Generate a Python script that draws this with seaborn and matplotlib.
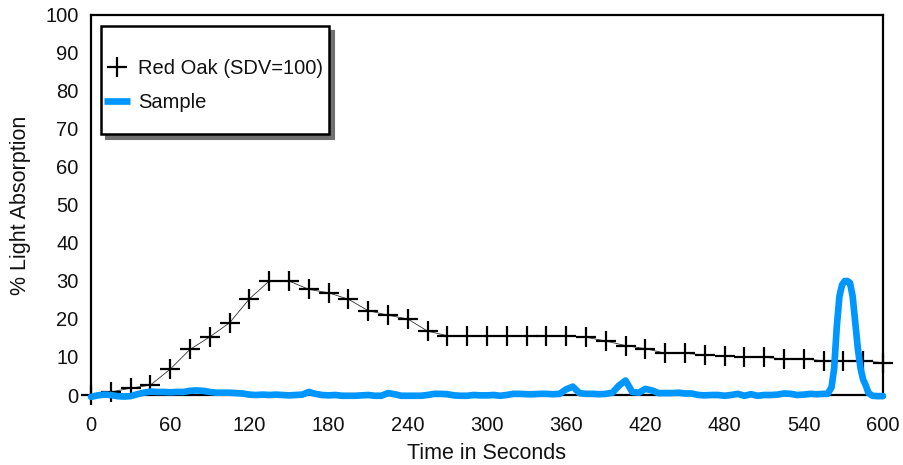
import matplotlib
matplotlib.use("Agg")
import matplotlib.pyplot as plt
import matplotlib.patches as mpatches
import matplotlib.transforms as mtransforms
from matplotlib.lines import Line2D
import seaborn as sns
import pandas as pd

# ---- data ----
oak_time = [0, 15, 30, 45, 60, 75, 90, 105, 120, 135, 150, 165, 180, 195, 210,
            225, 240, 255, 270, 285, 300, 315, 330, 345, 360, 375, 390, 405,
            420, 435, 450, 465, 480, 495, 510, 525, 540, 555, 570, 585, 600]
oak_values = [0, 0.8, 1.8, 2.6, 6.8, 12, 15.3, 19, 25.3, 30,
              30, 27.8, 26.9, 25.2, 22.2, 21, 20, 16.8, 15.6, 15.6,
              15.6, 15.6, 15.6, 15.6, 15.6, 15.2, 14.2, 13, 12.2, 11,
              11, 10.5, 10.3, 9.9, 9.9, 9.5, 9.5, 9, 9, 9, 8.5]

sample_time = list(range(0, 560, 5)) + [558, 561, 563, 565, 567, 569, 571, 573, 575,
                                        577, 579, 581, 583, 585, 587, 589, 592, 596, 600]
sample_values = [
    -0.5, -0.1, 0.1, 0, -0.3, -0.4, -0.3, 0.2, 0.6, 0.9,
    0.8, 0.8, 0.7, 0.8, 0.8, 1.1, 1.2, 1.1, 0.8, 0.6,
    0.6, 0.6, 0.5, 0.4, 0.1, 0, 0.1, 0, 0.1, 0,
    -0.1, 0, 0.1, 0.8, 0.3, 0, -0.1, 0, -0.2, -0.2,
    -0.2, -0.1, 0, -0.2, -0.2, 0.5, 0.2, -0.2, -0.2, -0.2,
    -0.2, 0, 0.3, 0.3, 0.2, -0.1, -0.2, -0.2, 0, -0.1,
    -0.1, 0, -0.2, 0, 0.3, 0.3, 0.2, 0.2, 0.3, 0.3,
    0.2, 0.3, 1.5, 2.2, 0.5, 0.3, 0.3, 0.2, 0.3, 0.6,
    2.5, 3.8, 0.8, 0.6, 1.6, 1.2, 0.5, 0.5, 0.5, 0.6,
    0.4, 0.4, 0, -0.1, 0, 0, -0.2, 0, 0.3, -0.2,
    0.2, -0.2, 0, 0, 0.1, 0.4, 0.3, 0, 0.1, 0.3,
    0.2, 0.3,
    0.3, 2, 7, 18, 26, 29, 30, 30, 29.5,
    26, 19, 12, 7, 4, 2.5, 0.5, -0.2, -0.3, -0.3]

x_ticks = [0, 60, 120, 180, 240, 300, 360, 420, 480, 540, 600]
y_ticks = [0, 10, 20, 30, 40, 50, 60, 70, 80, 90, 100]
labels = ["Red Oak (SDV=100)", "Sample"]

oak_df = pd.DataFrame({"t": oak_time, "v": oak_values})
sample_df = pd.DataFrame({"t": sample_time, "v": sample_values})

sns.set_style("white")
plt.rcParams["font.family"] = ["Liberation Sans", "DejaVu Sans"]

fig = plt.figure(figsize=(9.04, 4.65), dpi=100)
ax = fig.add_axes([91 / 904, 70 / 465, 792 / 904, 380 / 465])

blue = "#0096ff"
sns.lineplot(data=oak_df, x="t", y="v", ax=ax, color="#333333", lw=0.6,
             marker="+", markersize=14, markeredgewidth=1.6, markeredgecolor="black",
             zorder=3, clip_on=False)
sns.lineplot(data=sample_df, x="t", y="v", ax=ax, color=blue, lw=4.8,
             zorder=4, clip_on=False)

ax.set_xlim(0, 600)
ax.set_ylim(0, 100)
ax.set_xticks(x_ticks)
ax.set_xticks([30, 90, 150, 210, 270, 330, 390, 450, 510, 570], minor=True)
ax.set_yticks(y_ticks)
ax.tick_params(axis="both", which="both", direction="in", length=8, width=1.5,
               color="black", labelsize=14.5, labelcolor="#111111")
ax.tick_params(axis="x", pad=15)
ax.tick_params(axis="y", pad=9)
for s in ax.spines.values():
    s.set_visible(True)
    s.set_color("black")
    s.set_linewidth(1.6)

ax.set_xlabel("Time in Seconds", fontsize=15.5, color="#111111", labelpad=6)
ax.set_ylabel("% Light Absorption", fontsize=15.5, color="#111111", labelpad=10)

# legend box with shadow
x0, x1 = (101 - 91) / 792, (329 - 91) / 792
y1, y0 = (395 - 26) / 380, (395 - 134) / 380
shadow_tr = mtransforms.offset_copy(ax.transAxes, fig=fig, x=5, y=-5, units="dots")
ax.add_patch(mpatches.Rectangle((x0, y0), x1 - x0, y1 - y0, transform=shadow_tr,
                                facecolor="#707070", edgecolor="#707070", lw=1.5,
                                zorder=5, clip_on=False))
ax.add_patch(mpatches.Rectangle((x0, y0), x1 - x0, y1 - y0, transform=ax.transAxes,
                                facecolor="white", edgecolor="black", lw=1.8,
                                zorder=6, clip_on=False))
handles = [Line2D([], [], ls="none", marker="+", markersize=14, markeredgewidth=1.6, color="black"),
           Line2D([], [], color=blue, lw=4.8, solid_capstyle="butt")]
leg = ax.legend(handles, labels, loc="upper left",
                bbox_to_anchor=((104 - 91) / 792, (395 - 59) / 380),
                frameon=False, fontsize=14.5, borderpad=0, borderaxespad=0,
                handlelength=1.3, handletextpad=0.4, labelspacing=0.75)
leg.set_zorder(7)
for t in leg.get_texts():
    t.set_color("#111111")

fig.savefig("out.png", dpi=100)
